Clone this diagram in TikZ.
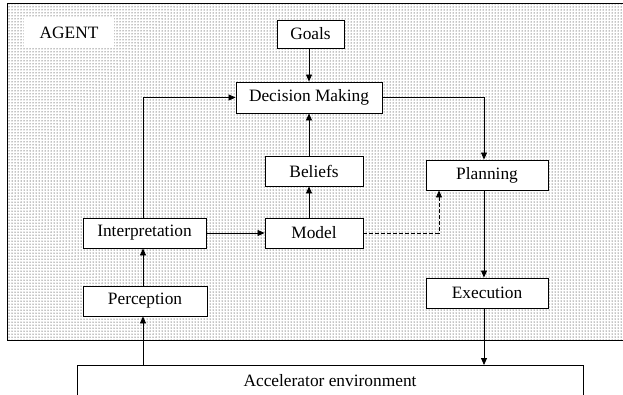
\documentclass[tikz,border=0pt]{standalone}
\usepackage{fontspec}
\setmainfont{Liberation Serif}
\usepackage{tikz}
\usetikzlibrary{arrows.meta,patterns}
\newcommand{\stageFont}[0]{\fontsize{17.35}{20}\selectfont}

\begin{document}
\begin{tikzpicture}[x=1pt, y=-1pt, font=\stageFont, >={Triangle[length=7pt,width=6pt]}]
  \tikzset{stage/.style={draw, fill=white, line width=0.9pt, minimum height=30pt, inner sep=0pt}}
  \tikzset{flow/.style={->, line width=0.8pt}}
  \useasboundingbox (0,0) rectangle (623,394);
  \clip (0,0) rectangle (623,394);
  \fill[white] (0,0) rectangle (623,394);
  \fill[pattern=dots, pattern color=black] (7,3) rectangle (640,340);
  \draw[line width=0.9pt] (7,3) rectangle (640,340);
  \node[fill=white, minimum width=90pt, minimum height=30pt, inner sep=0pt] (agent) at (69,33) {AGENT};
  \node[stage, minimum width=67pt, minimum height=28pt] (goals) at (310.5,34) {Goals};
  \node[stage, minimum width=146pt, minimum height=31pt] (dec) at (309,97.5) {Decision Making};
  \node[stage, minimum width=98pt] (beliefs) at (314,171) {Beliefs};
  \node[stage, minimum width=122pt] (plan) at (487,175) {Planning};
  \node[stage, minimum width=123pt] (interp) at (144.5,233) {Interpretation};
  \node[stage, minimum width=98pt] (model) at (314,233) {Model};
  \node[stage, minimum width=124pt] (perc) at (145,301) {Perception};
  \node[stage, minimum width=122pt] (exec) at (487,293) {Execution};
  \node[stage, anchor=north, minimum width=506pt, inner ysep=9pt, text height=12pt, text depth=30pt] (env) at (330,365) {Accelerator environment};
  \coordinate (planin) at ([xshift=-3pt]plan.north);
  \coordinate (planout) at ([xshift=-3pt]plan.south);
  \coordinate (modelin) at ([xshift=-48pt]plan.south);
  \coordinate (sense) at ([xshift=-2pt]perc.north);
  \draw[flow] (goals.south -| dec) -- (dec.north -| dec);
  \draw[flow] (beliefs.north -| dec) -- (dec.south -| dec);
  \draw[flow] (model.north -| dec) -- (beliefs.south -| dec);
  \draw[flow] (interp.north -| sense) |- (dec.west);
  \draw[flow] (dec.east) -| (planin);
  \draw[flow] (interp) -- (model);
  \draw[flow, dash pattern=on 4pt off 2pt] (model.east) -| (modelin);
  \draw[flow] (planout) -- (planout |- exec.north);
  \draw[flow] (planout |- exec.south) -- (planout |- env.north);
  \draw[flow] (sense) -- (sense |- interp.south);
  \draw[flow] (env.north -| sense) -- (perc.south -| sense);
\end{tikzpicture}
\end{document}
